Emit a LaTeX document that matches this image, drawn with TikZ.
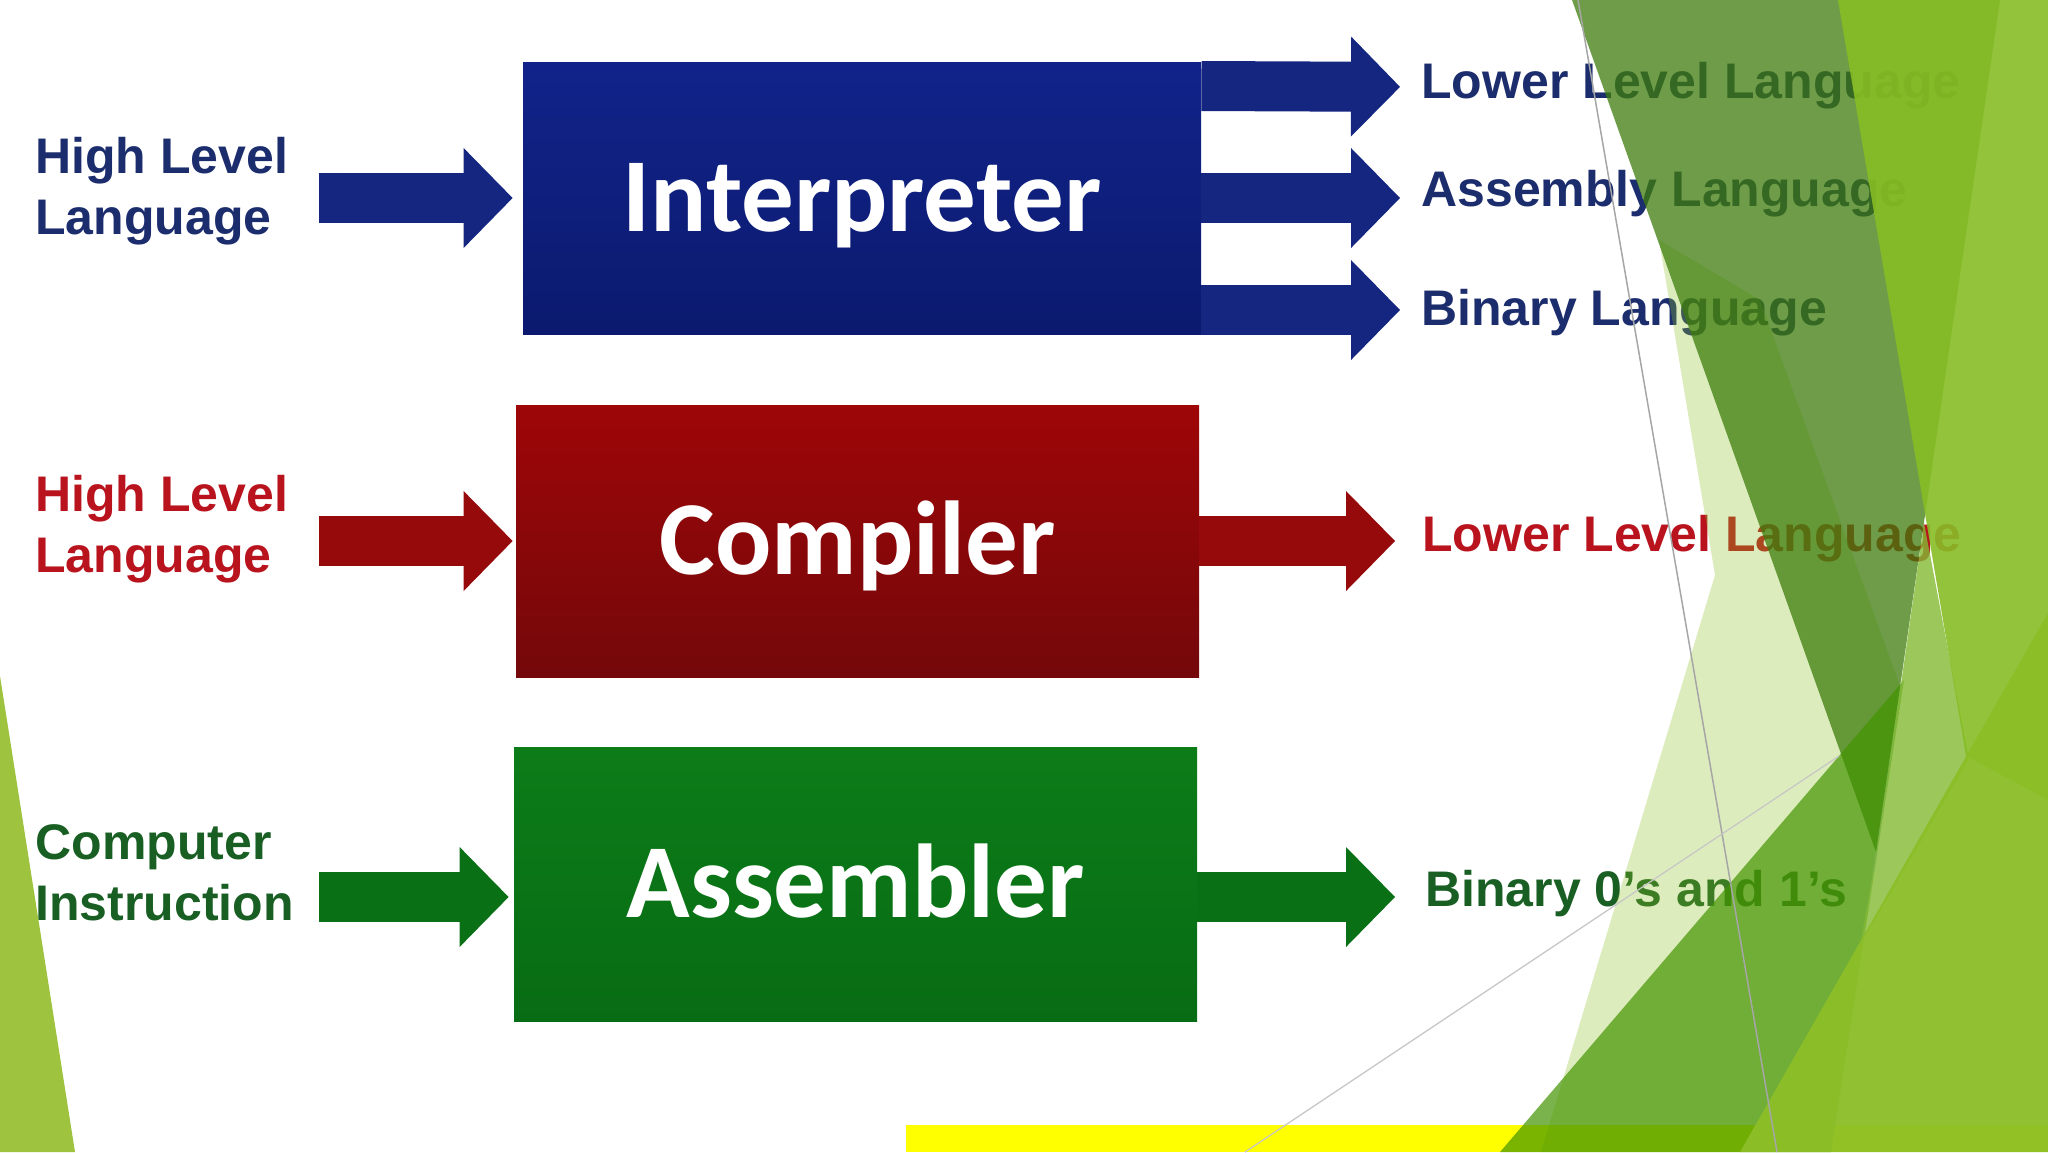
\documentclass[tikz,border=0pt]{standalone}
\usepackage{fontspec}
\setmainfont{Liberation Sans}
\newfontfamily\boxfont{Carlito}
\usetikzlibrary{arrows.meta}

\definecolor{txtblue}{RGB}{28,45,110}
\definecolor{txtred}{RGB}{185,20,30}
\definecolor{txtgreen}{RGB}{25,95,35}
\definecolor{arrblue}{RGB}{20,38,128}
\definecolor{arrred}{RGB}{150,10,12}
\definecolor{arrgreen}{RGB}{10,112,22}
\definecolor{itop}{RGB}{17,35,138}
\definecolor{ibot}{RGB}{11,26,110}
\definecolor{ctop}{RGB}{158,6,8}
\definecolor{cbot}{RGB}{116,8,10}
\definecolor{atop}{RGB}{12,124,24}
\definecolor{abot}{RGB}{8,108,20}
\definecolor{facetA}{RGB}{62,124,11}
\definecolor{facetD}{RGB}{66,148,0}
\definecolor{facetG}{RGB}{130,185,50}
\definecolor{facetE}{RGB}{135,189,37}
\definecolor{facetEb}{RGB}{140,190,40}
\definecolor{accent}{RGB}{144,194,38}
\definecolor{leftgreen}{RGB}{157,195,63}
\definecolor{barcolor}{RGB}{255,255,0}

\begin{document}
\begin{tikzpicture}[x=0.5pt,y=-0.5pt,
  procbox/.style={minimum width=341.5pt, minimum height=136pt, inner sep=0pt,
    font=\boxfont\bfseries\fontsize{52.5}{60}\selectfont, text=white,
    text height=33.8pt, text depth=0pt},
  lbl/.style={font=\bfseries\fontsize{25}{30.5}\selectfont, inner sep=0pt, align=left},
  fat/.style={line width=25pt, -{Triangle[length=24.5pt,width=50pt,line width=0pt]}}
]
\useasboundingbox (0,0) rectangle (2048,1152);
\fill[white] (0,0) rectangle (2048,1152);
\fill[fill=barcolor] (906,1125) rectangle (2048,1152);

% process boxes
\node[procbox, minimum width=339pt, top color=itop, bottom color=ibot] (interp) at (862,198) {Interpreter};
\node[procbox, top color=ctop, bottom color=cbot] (comp) at (857.5,541) {Compiler};
\node[procbox, minimum height=137pt, top color=atop, bottom color=abot] (asm) at (855.5,884) {Assembler};

% input labels
\node[lbl, text=txtblue, anchor=north west] (hl1) at (35,137) {High Level\\Language};
\node[lbl, text=txtred, anchor=north west] (hl2) at (35,475) {High Level\\Language};
\node[lbl, text=txtgreen, anchor=north west] (ci) at (35,824) {Computer\\Instruction};

% output labels
\node[lbl, text=txtblue, anchor=west] (o1) at (1421,86) {Lower Level Language};
\node[lbl, text=txtblue, anchor=west] (o2) at (1421,194) {Assembly Language};
\node[lbl, text=txtblue, anchor=west] (o3) at (1421,313) {Binary Language};
\node[lbl, text=txtred, anchor=west] (co) at (1422,539) {Lower Level Language};
\node[lbl, text=txtgreen, anchor=west] (bo) at (1425,894) {Binary 0’s and 1’s};

% connectors
\coordinate (asmin) at ([yshift=-6.5pt]asm.west);
\coordinate (asmout) at ([yshift=-6.5pt]asm.east);
\draw[fat, arrblue, shorten <=15pt, shorten >=5pt] (hl1.east |- interp.west) -- (interp.west);
\draw[fat, arrred, shorten <=15pt, shorten >=1.5pt] (hl2.east |- comp.west) -- (comp.west);
\draw[fat, arrgreen, shorten <=12.5pt, shorten >=2.5pt] (ci.east |- asmin) -- (asmin);
\draw[fat, arrblue, shorten >=10.5pt] (interp.east |- o1.west) -- (o1.west |- 0,87);
\draw[fat, arrblue, shorten >=10.5pt] (interp.east) -- (interp.east -| o2.west);
\draw[fat, arrblue, shorten >=10.5pt] (interp.east |- 0,310) -- (o3.west |- 0,310);
\draw[fat, arrred, shorten >=13.5pt] (comp.east) -- (comp.east -| co.west);
\draw[fat, arrgreen, shorten >=15pt] (asmout) -- (asmout -| bo.west);

% facet decoration (right)
\fill[accent, opacity=0.3] (1659,240) -- (1715,575) -- (1541,1152) -- (1831,1152) -- (1900,686) -- (1760,300) -- cycle;
\fill[facetA, opacity=0.75] (1572,0) -- (2000,0) -- (1876,852) -- cycle;
\fill[facetD, opacity=0.7] (1500,1152) -- (1904,680) -- (1831,1152) -- cycle;
\fill[facetG, opacity=0.8] (1924,523) -- (1969,760) -- (1860,945) -- (1877,852) -- cycle;
\fill[facetE, opacity=0.9] (1838,0) -- (2048,0) -- (2048,800) -- (1966,756) -- cycle;
\fill[facetEb, opacity=0.95] (2048,613) -- (2048,1152) -- (1740,1152) -- cycle;
\draw[gray!70, line width=0.75pt] (1578,0) -- (1777,1152);
\draw[gray!45, line width=0.6pt] (1245,1152) -- (1839,756);

% facet decoration (left)
\fill[leftgreen] (0,676) -- (75,1152) -- (0,1152) -- cycle;
\end{tikzpicture}
\end{document}
